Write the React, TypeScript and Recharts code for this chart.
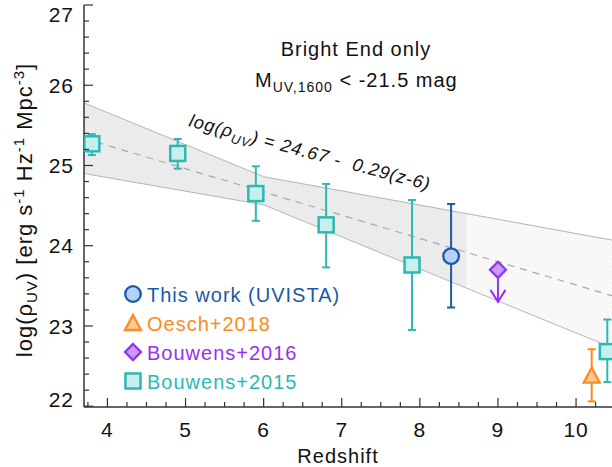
import React from "react";
import {
  ComposedChart,
  Area,
  Line,
  Scatter,
  ErrorBar,
  XAxis,
  YAxis,
} from "recharts";

const W = 612;
const H = 467;
const FONT = "'Liberation Sans', Arial, Helvetica, sans-serif";
const AXIS = "#333333";

const X_DOMAIN: [number, number] = [3.7, 10.46];
const Y_DOMAIN: [number, number] = [21.99, 27];

// best fit quoted in the label
const FIT_A = 24.67;
const FIT_B = 0.29;

// envelope around the fit (solid up to z=8.6, hatched beyond)
const bandZ = [3.7, 6.0, 8.6, 10.46];
const bandLow = [24.9, 24.51, 23.47, 22.73];
const bandHigh = [25.78, 24.86, 24.4, 24.07];
const HATCH_FROM = 8.6;

// Bouwens+2015
const b15Z = [3.8, 4.9, 5.9, 6.8, 7.9, 10.4];
const b15Val = [25.27, 25.15, 24.65, 24.26, 23.76, 22.68];
const b15Low = [25.13, 24.96, 24.31, 23.73, 22.95, 22.3];
const b15High = [25.39, 25.33, 24.99, 24.77, 24.57, 23.08];

// This work (UVISTA)
const uvZ = [8.4];
const uvVal = [23.87];
const uvLow = [23.23];
const uvHigh = [24.52];

// Oesch+2018
const oeZ = [10.2];
const oeVal = [22.38];
const oeLow = [22.06];
const oeHigh = [22.71];

// Bouwens+2016 upper limit
const b16Z = [9.0];
const b16Val = [23.7];
const b16Arrow = [23.3];

const xTicks = Array.from({ length: 27 }, (_, i) => 3.75 + i * 0.25);
const yTicks = Array.from({ length: 26 }, (_, i) => Math.round((22 + i * 0.2) * 10) / 10);

const TEAL = "#2db8b3";
const TEAL_FILL = "#c6efed";
const BLUE = "#1b5aa5";
const BLUE_FILL = "#b2d3f7";
const ORANGE = "#ff8a1c";
const ORANGE_FILL = "#fcc89c";
const PURPLE = "#9531f5";
const PURPLE_FILL = "#c89cf6";

const bandRows = bandZ.map((z, i) => ({
  z,
  fit: FIT_A - FIT_B * (z - 6),
  solid: z <= HATCH_FROM ? [bandLow[i], bandHigh[i]] : null,
  hatch: z >= HATCH_FROM ? [bandLow[i], bandHigh[i]] : null,
}));

const toPoints = (z: number[], v: number[], lo: number[], hi: number[]) =>
  z.map((zz, i) => ({ z: zz, v: v[i], err: [v[i] - lo[i], hi[i] - v[i]] }));

const b15Points = toPoints(b15Z, b15Val, b15Low, b15High);
const uvPoints = toPoints(uvZ, uvVal, uvLow, uvHigh);
const oePoints = toPoints(oeZ, oeVal, oeLow, oeHigh);
const b16Points = b16Z.map((z, i) => ({ z, v: b16Val[i], err: [b16Val[i] - b16Arrow[i], 0] }));
const b16Heads = b16Z.map((z, i) => ({ z, v: b16Arrow[i] }));

const isMajor = (v: number) => Math.abs(v - Math.round(v)) < 1e-6;

const txt = { fontFamily: FONT, letterSpacing: 1 } as const;

// end labels are nudged inside the frame
const labelShift = (v: number) => (v >= 27 ? 9 : v <= 22 ? -7 : 0);

const LeftTick = ({ x, y, payload }: any) => {
  const major = isMajor(payload.value);
  return (
    <g>
      <line x1={x} x2={x + (major ? 9 : 5)} y1={y} y2={y} stroke={AXIS} strokeWidth={1.2} />
      {major && (
        <text
          x={x - 10}
          y={y + labelShift(payload.value)}
          dy="0.36em"
          textAnchor="end"
          fontSize={21}
          fill="#111"
          style={txt}
        >
          {Math.round(payload.value)}
        </text>
      )}
    </g>
  );
};

const RightTick = ({ x, y, payload }: any) => (
  <line x1={x} x2={x - (isMajor(payload.value) ? 9 : 5)} y1={y} y2={y} stroke={AXIS} strokeWidth={1.2} />
);

const BottomTick = ({ x, y, payload }: any) => {
  const major = isMajor(payload.value);
  return (
    <g>
      <line x1={x} x2={x} y1={y} y2={y - (major ? 9 : 5)} stroke={AXIS} strokeWidth={1.2} />
      {major && (
        <text x={x} y={y + 30} textAnchor="middle" fontSize={21} fill="#111" style={txt}>
          {Math.round(payload.value)}
        </text>
      )}
    </g>
  );
};

const TopTick = ({ x, y, payload }: any) => (
  <line x1={x} x2={x} y1={y} y2={y + (isMajor(payload.value) ? 9 : 5)} stroke={AXIS} strokeWidth={1.2} />
);

const square = ({ cx, cy }: any) => (
  <rect x={cx - 7.5} y={cy - 7.5} width={15} height={15} fill={TEAL_FILL} stroke={TEAL} strokeWidth={2.5} />
);
const circle = ({ cx, cy }: any) => (
  <circle cx={cx} cy={cy} r={7.8} fill={BLUE_FILL} stroke={BLUE} strokeWidth={2.3} />
);
const triangle = ({ cx, cy }: any) => (
  <path
    d={`M${cx},${cy - 8} L${cx + 8},${cy + 7} L${cx - 8},${cy + 7} Z`}
    fill={ORANGE_FILL}
    stroke={ORANGE}
    strokeWidth={2.3}
    strokeLinejoin="miter"
  />
);
const diamond = ({ cx, cy }: any) => (
  <path
    d={`M${cx},${cy - 8} L${cx + 8},${cy} L${cx},${cy + 8} L${cx - 8},${cy} Z`}
    fill={PURPLE_FILL}
    stroke={PURPLE}
    strokeWidth={2.3}
  />
);
const arrowHead = ({ cx, cy }: any) => (
  <path
    d={`M${cx - 7.5},${cy - 12} L${cx},${cy} L${cx + 7.5},${cy - 12}`}
    fill="none"
    stroke={PURPLE}
    strokeWidth={2}
  />
);

const legendRows = [
  { label: "This work (UVISTA)", color: BLUE, shape: "circle" },
  { label: "Oesch+2018", color: ORANGE, shape: "triangle" },
  { label: "Bouwens+2016", color: PURPLE, shape: "diamond" },
  { label: "Bouwens+2015", color: TEAL, shape: "square" },
];

const LegendMarker = ({ shape, cx, cy }: { shape: string; cx: number; cy: number }) => {
  if (shape === "circle") return circle({ cx, cy });
  if (shape === "triangle") return triangle({ cx, cy });
  if (shape === "diamond") return diamond({ cx, cy });
  return square({ cx, cy });
};

export default function App() {
  return (
    <div style={{ position: "absolute", left: 0, top: 0, width: W, height: H, background: "#fff" }}>
      <ComposedChart width={W} height={H} data={bandRows} margin={{ top: 5, right: 0, bottom: 0, left: 0 }}>
        <defs>
          <pattern id="hatch" width={3} height={3} patternUnits="userSpaceOnUse" patternTransform="rotate(-30)">
            <rect width={3} height={3} fill="#fbfbfb" />
            <line x1={0} y1={0} x2={0} y2={3} stroke="#e9e9e9" strokeWidth={1} />
          </pattern>
        </defs>
        <XAxis
          dataKey="z"
          type="number"
          domain={X_DOMAIN}
          allowDataOverflow
          ticks={xTicks}
          interval={0}
          tickSize={0}
          tickMargin={0}
          tick={(p: any) => <BottomTick {...p} />}
          axisLine={{ stroke: AXIS, strokeWidth: 1.5 }}
          height={60}
        />
        <XAxis
          xAxisId="top"
          orientation="top"
          type="number"
          domain={X_DOMAIN}
          allowDataOverflow
          ticks={xTicks}
          interval={0}
          tickSize={0}
          tickMargin={0}
          tick={(p: any) => <TopTick {...p} />}
          axisLine={{ stroke: AXIS, strokeWidth: 1.5 }}
          height={0}
        />
        <YAxis
          type="number"
          domain={Y_DOMAIN}
          allowDataOverflow
          ticks={yTicks}
          interval={0}
          tickSize={0}
          tickMargin={0}
          tick={(p: any) => <LeftTick {...p} />}
          axisLine={{ stroke: AXIS, strokeWidth: 1.5 }}
          width={84}
        />
        <YAxis
          yAxisId="right"
          orientation="right"
          type="number"
          domain={Y_DOMAIN}
          allowDataOverflow
          ticks={yTicks}
          interval={0}
          tickSize={0}
          tickMargin={0}
          tick={(p: any) => <RightTick {...p} />}
          axisLine={{ stroke: AXIS, strokeWidth: 1.5 }}
          width={0}
        />

        <Area
          dataKey="solid"
          type="linear"
          fill="#ebebeb"
          fillOpacity={1}
          stroke="#b5b5b5"
          strokeWidth={1}
          dot={false}
          activeDot={false}
          isAnimationActive={false}
        />
        <Area
          dataKey="hatch"
          type="linear"
          fill="url(#hatch)"
          fillOpacity={1}
          stroke="#b5b5b5"
          strokeWidth={1}
          dot={false}
          activeDot={false}
          isAnimationActive={false}
        />
        <Line
          dataKey="fit"
          type="linear"
          stroke="#a8a8a8"
          strokeWidth={1.2}
          strokeDasharray="7 6"
          dot={false}
          activeDot={false}
          isAnimationActive={false}
        />

        <Scatter data={b15Points} dataKey="v" shape={square} isAnimationActive={false}>
          <ErrorBar dataKey="err" direction="y" width={4} stroke={TEAL} strokeWidth={2} />
        </Scatter>
        <Scatter data={uvPoints} dataKey="v" shape={circle} isAnimationActive={false}>
          <ErrorBar dataKey="err" direction="y" width={4} stroke={BLUE} strokeWidth={2} />
        </Scatter>
        <Scatter data={oePoints} dataKey="v" shape={triangle} isAnimationActive={false}>
          <ErrorBar dataKey="err" direction="y" width={4} stroke={ORANGE} strokeWidth={2} />
        </Scatter>
        <Scatter data={b16Heads} dataKey="v" shape={arrowHead} isAnimationActive={false} />
        <Scatter data={b16Points} dataKey="v" shape={diamond} isAnimationActive={false}>
          <ErrorBar dataKey="err" direction="y" width={0} stroke={PURPLE} strokeWidth={2} />
        </Scatter>
      </ComposedChart>

      <svg width={W} height={H} style={{ position: "absolute", left: 0, top: 0, pointerEvents: "none" }}>
        {/* annotation */}
        <text x={356} y={56} textAnchor="middle" fontSize={20} fill="#111" style={txt}>
          Bright End only
        </text>
        <text x={255} y={87} fontSize={20} fill="#111" style={txt}>
          M
          <tspan fontSize={14} dy={5}>
            UV,1600
          </tspan>
          <tspan dy={-5}> &lt; -21.5 mag</tspan>
        </text>

        {/* fit label */}
        <text
          transform="translate(188,126) rotate(15)"
          fontSize={18}
          fontStyle="italic"
          fill="#111"
          style={{ ...txt, letterSpacing: 0.9, whiteSpace: "pre" }}
        >
          log(ρ
          <tspan fontSize={13} dy={5}>
            UV
          </tspan>
          <tspan dy={-5}>{") = 24.67 -  0.29(z-6)"}</tspan>
        </text>

        {/* axis titles */}
        <text x={338} y={463} textAnchor="middle" fontSize={20} fill="#111" style={txt}>
          Redshift
        </text>
        <text
          transform="translate(32,210) rotate(-90)"
          textAnchor="middle"
          fontSize={22}
          fill="#111"
          style={txt}
        >
          log(ρ
          <tspan fontSize={15} dy={5}>
            UV
          </tspan>
          <tspan dy={-5}>) [erg s</tspan>
          <tspan fontSize={15} dy={-8}>
            -1
          </tspan>
          <tspan dy={8}> Hz</tspan>
          <tspan fontSize={15} dy={-8}>
            -1
          </tspan>
          <tspan dy={8}> Mpc</tspan>
          <tspan fontSize={15} dy={-8}>
            -3
          </tspan>
          <tspan dy={8}>]</tspan>
        </text>

        {/* legend */}
        {legendRows.map((r, i) => {
          const cy = 294 + i * 29;
          return (
            <g key={r.label}>
              <LegendMarker shape={r.shape} cx={133} cy={cy} />
              <text x={147} y={cy + 7.5} fontSize={20} fill={r.color} style={txt}>
                {r.label}
              </text>
            </g>
          );
        })}
      </svg>
    </div>
  );
}
